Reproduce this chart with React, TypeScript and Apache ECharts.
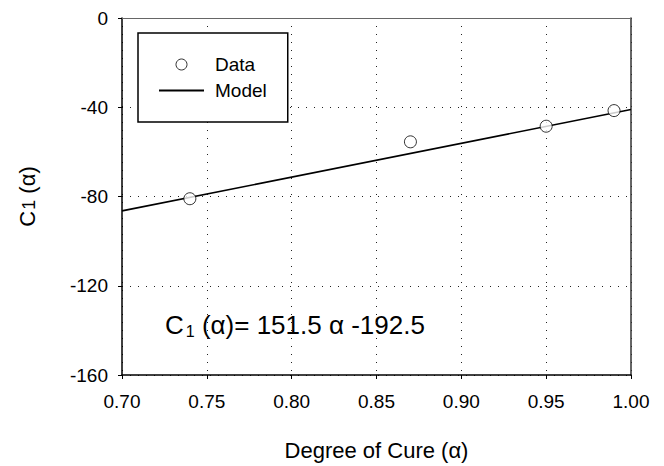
import React, { useEffect, useRef } from "react";
import * as echarts from "echarts";

const dataX = [0.74, 0.87, 0.95, 0.99];
const dataY = [-81, -55.5, -48.5, -41.5];
const modelX = [0.7, 1.0];
const modelY = [-86.45, -41.0];
const xTicks = { min: 0.7, max: 1.0, interval: 0.05 };
const yTicks = { min: -160, max: 0, interval: 40 };
const equationText = "(α)= 151.5 α -192.5";

const FONT = 'Arial, "Liberation Sans", Helvetica, sans-serif';

export default function App() {
  const ref = useRef<HTMLDivElement>(null);
  useEffect(() => {
    if (!ref.current) return;
    const chart = echarts.init(ref.current, null, { renderer: "svg" });
    const axisLineStyle = { color: "#000", width: 1.5 };
    const gridStyle = { color: "#222", width: 1, type: [1, 7] as any };
    chart.setOption({
      animation: false,
      backgroundColor: "#fff",
      textStyle: { fontFamily: FONT, color: "#000" },
      grid: { left: 122, right: 33, top: 18, bottom: 90 },
      legend: {
        left: 138,
        top: 33,
        orient: "vertical",
        padding: [22, 21, 22, 20],
        itemGap: 7,
        itemWidth: 45,
        itemHeight: 11,
        borderColor: "#000",
        borderWidth: 1.5,
        borderRadius: 0,
        backgroundColor: "#fff",
        textStyle: { fontSize: 19, fontFamily: FONT, color: "#000", padding: [0, 0, 0, 6] },
        data: [
          { name: "Data", icon: "circle", itemStyle: { color: "#fff", borderColor: "#000", borderWidth: 1 } },
          { name: "Model", itemStyle: { opacity: 0 } },
        ],
      },
      xAxis: [
        {
          type: "value",
          min: xTicks.min,
          max: xTicks.max,
          interval: xTicks.interval,
          position: "bottom",
          name: "Degree of Cure (α)",
          nameLocation: "middle",
          nameGap: 64,
          nameTextStyle: { fontSize: 22, fontFamily: FONT, color: "#000" },
          axisLine: { show: true, onZero: false, lineStyle: axisLineStyle },
          axisTick: { show: true, length: 4, lineStyle: { color: "#000", width: 1 } },
          axisLabel: {
            fontSize: 19,
            fontFamily: FONT,
            color: "#000",
            margin: 17,
            formatter: (v: number) => v.toFixed(2),
          },
          splitLine: { show: true, lineStyle: gridStyle },
        },
        {
          type: "value",
          min: xTicks.min,
          max: xTicks.max,
          interval: xTicks.interval,
          position: "top",
          axisLine: { show: true, onZero: false, lineStyle: { color: "#666", width: 1 } },
          axisTick: { show: false },
          axisLabel: { show: false },
          splitLine: { show: false },
        },
      ],
      yAxis: [
        {
          type: "value",
          min: yTicks.min,
          max: yTicks.max,
          interval: yTicks.interval,
          position: "left",
          name: "{a|C}{s|1}{a| (α)}",
          nameLocation: "middle",
          nameGap: 84,
          nameRotate: 90,
          nameTextStyle: {
            fontSize: 22,
            fontFamily: FONT,
            color: "#000",
            rich: {
              a: { fontSize: 22, fontFamily: FONT, color: "#000" },
              s: { fontSize: 18, fontFamily: FONT, color: "#000", padding: [4, 0, 0, 1] },
            },
          },
          axisLine: { show: true, onZero: false, lineStyle: axisLineStyle },
          axisTick: { show: true, length: 4, lineStyle: { color: "#000", width: 1 } },
          axisLabel: { fontSize: 19, fontFamily: FONT, color: "#000", margin: 14 },
          splitLine: { show: true, lineStyle: gridStyle },
        },
        {
          type: "value",
          min: yTicks.min,
          max: yTicks.max,
          interval: yTicks.interval,
          position: "right",
          axisLine: { show: true, onZero: false, lineStyle: { color: "#333", width: 1.5 } },
          axisTick: { show: false },
          axisLabel: { show: false },
          splitLine: { show: false },
        },
      ],
      graphic: [
        {
          type: "text",
          left: 165,
          top: 312,
          style: {
            text: "{a|C}{s|1}{a| " + equationText + "}",
            fontFamily: FONT,
            fill: "#000",
            rich: {
              a: { fontSize: 26, fontFamily: FONT, fill: "#000" },
              s: { fontSize: 16, fontFamily: FONT, fill: "#000", padding: [12, 0, 0, 2] },
            },
          },
        },
      ],
      series: [
        {
          name: "Model",
          type: "line",
          data: modelX.map((x, i) => [x, modelY[i]]),
          symbol: "none",
          lineStyle: { color: "#000", width: 1.6 },
          itemStyle: { color: "#000" },
          z: 2,
        },
        {
          name: "Data",
          type: "scatter",
          data: dataX.map((x, i) => [x, dataY[i]]),
          symbol: "circle",
          symbolSize: 12,
          itemStyle: { color: "#fff", borderColor: "#000", borderWidth: 1 },
          z: 3,
        },
      ],
    });
    return () => chart.dispose();
  }, []);
  return (
    <div
      ref={ref}
      style={{ position: "fixed", left: 0, top: 0, width: 664, height: 466 }}
    />
  );
}
